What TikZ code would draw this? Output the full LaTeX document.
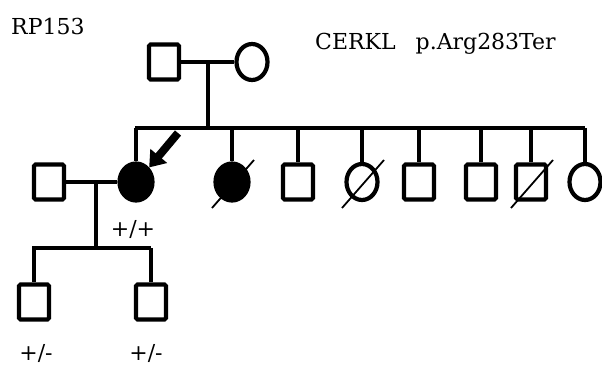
\documentclass[tikz,border=0pt]{standalone}
\usepackage{fontspec}
\setmainfont{DejaVu Serif}
\usetikzlibrary{shapes.geometric,arrows.meta,calc}
\begin{document}
\begin{tikzpicture}[x=1pt,y=-1pt,
  male/.style={draw,line width=4.2pt,rectangle,rounded corners=1.5pt,minimum width=30pt,minimum height=35pt,inner sep=0pt},
  female/.style={draw,line width=4.2pt,ellipse,minimum width=31pt,minimum height=36pt,inner sep=0pt},
  affected/.style={fill=black},
  conn/.style={line width=3.2pt},
  dead/.style={line width=1.8pt},
  lbl/.style={font=\fontsize{22}{26}\selectfont,inner sep=0pt},
  geno/.style={font=\fontsize{22}{26}\selectfont,inner sep=0pt}]
\useasboundingbox (0,0) rectangle (602,367);

% labels
\node[lbl,anchor=west] (title) at (11,26) {RP153};
\node[lbl,anchor=west] (gene) at (315,44) {CERKL\hspace{20pt}p.Arg283Ter};

% generation I
\node[male] (f) at (164,62) {};
\node[female] (m) at (252,62) {};
\draw[conn] (f) -- (m);
\coordinate (fm) at (208,62);
\coordinate (sibI) at (208,128);
\draw[conn] (fm) -- (sibI);

% generation II
\node[male] (sp) at (49,182) {};
\node[female,affected,minimum width=33pt,minimum height=37pt] (p) at (136,182) {};
\node[female,affected,minimum width=33pt,minimum height=37pt] (s2) at (232,182) {};
\node[male] (s3) at (298,182) {};
\node[female] (s4) at (362,182) {};
\node[male] (s5) at (419,182) {};
\node[male] (s6) at (481,182) {};
\node[male] (s7) at (531,182) {};
\node[female] (s8) at (585,182) {};

\coordinate (slL) at (135,128);
\coordinate (slR) at (585,128);
\draw[conn] (slL) -- (slR);
\foreach \n in {p,s2,s3,s4,s5,s6,s7,s8}{
  \draw[conn] (\n |- slL) -- (\n);
}

% deceased
\foreach \n in {s2,s4,s7}{
  \draw[dead] ($(\n.center)+(-20,26)$) -- ($(\n.center)+(22,-22)$);
}

% proband arrow
\coordinate (arrtail) at (178,133);
\draw[line width=8pt,-{Triangle[length=15pt,width=21pt]}] (arrtail) -- (p.north east);

% marriage II
\draw[conn] (sp) -- (p);
\coordinate (mp) at (96,182);
\coordinate (sibII) at (96,248);
\draw[conn] (mp) -- (sibII);
\node[geno] (gp) at (133,229) {+/+};

% generation III
\node[male] (c1) at (34,302) {};
\node[male] (c2) at (151,302) {};
\coordinate (sl3L) at (32,248);
\coordinate (sl3R) at (151,248);
\draw[conn] (sl3L) -- (sl3R);
\draw[conn] (c1 |- sl3L) -- (c1);
\draw[conn] (c2 |- sl3L) -- (c2);
\node[geno] (g1) at (36,353) {+/-};
\node[geno] (g2) at (146,353) {+/-};
\end{tikzpicture}
\end{document}
